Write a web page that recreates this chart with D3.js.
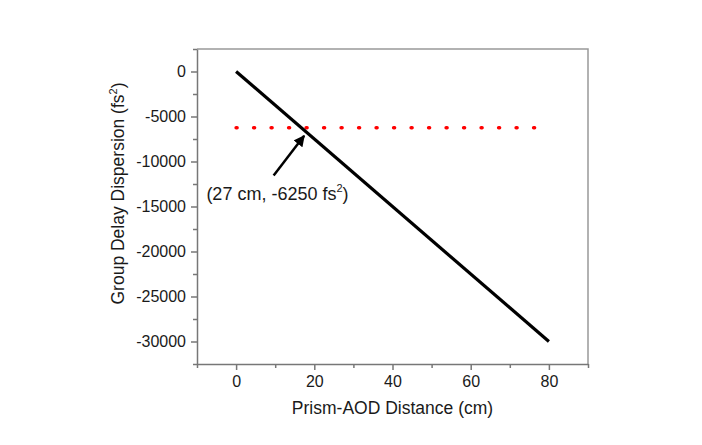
<!DOCTYPE html>
<html>
<head>
<meta charset="utf-8">
<script src="https://cdn.jsdelivr.net/npm/d3@7"></script>
<style>
	body { margin: 0; background: #fff; }
	text { font-family: "Liberation Sans", Arial, sans-serif; fill: #1a1a1a; }
	.axis path, .axis line { stroke: #777; stroke-width: 1.5; }
</style>
</head>
<body>
<div id="chart"></div>
<script>
"use strict";

// GDD vs. distance, straight line
var distance = [0, 80];
var gdd = [0, -30000];

// reference level
var refDistance = [0, 80];
var refGdd = [-6250, -6250];

var xTicks = [0, 20, 40, 60, 80];
var yTicks = [0, -5000, -10000, -15000, -20000, -25000, -30000];
var xMinor = [-10, 10, 30, 50, 70, 90];
var yMinor = [2500, -2500, -7500, -12500, -17500, -22500, -27500, -32500];

// annotation (data coords)
var arrowFrom = [9.6, -11550];
var arrowTo = [17.4, -7150];
var noteAt = [-7.6, -14330];

var viewWidth = 702, viewHeight = 445;
var margins = {top: 49, right: 114, bottom: 81, left: 197};
var graphWidth = viewWidth - margins.left - margins.right;
var graphHeight = viewHeight - margins.top - margins.bottom;

var svg = d3.select("#chart").append("svg")
	.attr("width", viewWidth)
	.attr("height", viewHeight);

svg.append("defs").append("marker")
	.attr("id", "head")
	.attr("viewBox", "0 0 10 10")
	.attr("refX", 9)
	.attr("refY", 5)
	.attr("markerWidth", 4.5)
	.attr("markerHeight", 4.5)
	.attr("markerUnits", "strokeWidth")
	.attr("orient", "auto")
	.append("path")
		.attr("d", "M0,0 L10,5 L0,10 z")
		.attr("fill", "#000");

var g = svg.append("g")
	.attr("transform", "translate(" + margins.left + "," + margins.top + ")");

var x = d3.scaleLinear().domain([-10, 90]).range([0, graphWidth]);
var y = d3.scaleLinear().domain([-32500, 2500]).range([graphHeight, 0]);

// frame (top and right)
g.append("path")
	.attr("d", "M0,0 H" + graphWidth + " V" + graphHeight)
	.attr("fill", "none")
	.attr("stroke", "#999")
	.attr("stroke-width", 1.5);

// minor ticks
g.append("g")
	.attr("class", "axis")
	.attr("transform", "translate(0," + graphHeight + ")")
	.call(d3.axisBottom(x).tickValues(xMinor).tickSize(4).tickFormat(""))
	.call(function(s) { s.select(".domain").remove(); });

g.append("g")
	.attr("class", "axis")
	.call(d3.axisLeft(y).tickValues(yMinor).tickSize(4).tickFormat(""))
	.call(function(s) { s.select(".domain").remove(); });

// major axes
var xAxis = g.append("g")
	.attr("class", "axis")
	.attr("transform", "translate(0," + graphHeight + ")")
	.call(d3.axisBottom(x).tickValues(xTicks).tickSize(6).tickSizeOuter(0).tickPadding(6));
xAxis.selectAll("text").style("font-size", "16px").attr("fill", "#1a1a1a");

var yAxis = g.append("g")
	.attr("class", "axis")
	.call(d3.axisLeft(y).tickValues(yTicks).tickSize(6).tickSizeOuter(0).tickPadding(5).tickFormat(d3.format("d")));
yAxis.selectAll("text").style("font-size", "16px").attr("fill", "#1a1a1a");
yAxis.selectAll("text").text(function(d) { return d < 0 ? "-" + Math.abs(d) : d; });

// axis titles
g.append("text")
	.attr("x", graphWidth / 2)
	.attr("y", graphHeight + 50)
	.attr("text-anchor", "middle")
	.style("font-size", "17.5px")
	.text("Prism-AOD Distance (cm)");

var yt = g.append("text")
	.attr("transform", "translate(-73," + (graphHeight / 2 - 13) + ") rotate(-90)")
	.attr("text-anchor", "middle")
	.style("font-size", "17.5px");
yt.append("tspan").text("Group Delay Dispersion (fs");
yt.append("tspan").attr("dy", -7).style("font-size", "11px").text("2");
yt.append("tspan").attr("dy", 7).text(")");

var line = d3.line()
	.x(function(d) { return x(d[0]); })
	.y(function(d) { return y(d[1]); });

// red dotted reference
g.append("path")
	.datum(d3.zip(refDistance, refGdd))
	.attr("d", line)
	.attr("fill", "none")
	.attr("stroke", "#ff0000")
	.attr("stroke-width", 3.5)
	.attr("stroke-linecap", "round")
	.attr("stroke-dasharray", "1 16.5");

// data line
g.append("path")
	.datum(d3.zip(distance, gdd))
	.attr("d", line)
	.attr("fill", "none")
	.attr("stroke", "#000")
	.attr("stroke-width", 3.2);

// arrow
g.append("line")
	.attr("x1", x(arrowFrom[0]))
	.attr("y1", y(arrowFrom[1]))
	.attr("x2", x(arrowTo[0]))
	.attr("y2", y(arrowTo[1]))
	.attr("stroke", "#000")
	.attr("stroke-width", 2.5)
	.attr("marker-end", "url(#head)");

var note = g.append("text")
	.attr("x", x(noteAt[0]))
	.attr("y", y(noteAt[1]))
	.style("font-size", "18px");
note.append("tspan").text("(27 cm, -6250 fs");
note.append("tspan").attr("dy", -8).style("font-size", "11px").text("2");
note.append("tspan").attr("dy", 8).text(")");
</script>
</body>
</html>
